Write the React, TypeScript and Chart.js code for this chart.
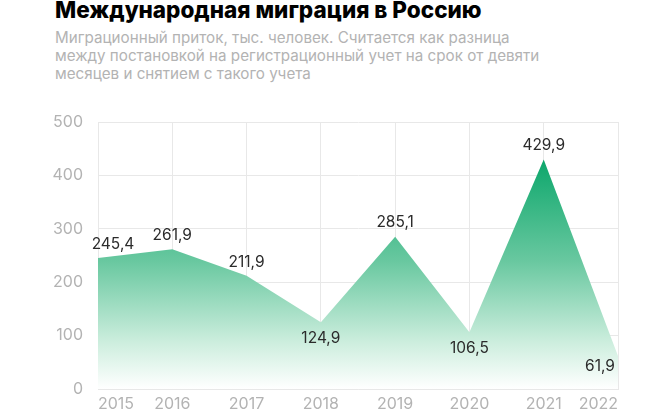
import React, { useEffect, useRef } from "react";
import { Chart, registerables } from "chart.js";

Chart.register(...registerables);

const years = ["2015", "2016", "2017", "2018", "2019", "2020", "2021", "2022"];
const inflow = [245.4, 261.9, 211.9, 124.9, 285.1, 106.5, 429.9, 61.9];
const labelPlacement = ["aboveRight", "above", "above", "below", "above", "below", "above", "belowLeft"];
const yMax = 500;
const yStep = 100;

const title = "Международная миграция в Россию";
const subtitleLines = [
  "Миграционный приток, тыс. человек. Считается как разница",
  "между постановкой на регистрационный учет на срок от девяти",
  "месяцев и снятием с такого учета",
];

const fmt = (v: number) => v.toFixed(1).replace(".", ",");

const valueLabels = {
  id: "valueLabels",
  afterDatasetsDraw(chart: any) {
    const ctx = chart.ctx;
    const meta = chart.getDatasetMeta(0);
    ctx.save();
    ctx.font = "15.5px Inter, 'Noto Sans', sans-serif";
    ctx.fillStyle = "#2b2b2b";
    ctx.textAlign = "center";
    ctx.textBaseline = "middle";
    meta.data.forEach((pt: any, i: number) => {
      const p = labelPlacement[i];
      let dx = 0;
      let dy = -14;
      if (p === "aboveRight") { dx = 15; dy = -14; }
      if (p === "below") { dx = 0; dy = 16; }
      if (p === "belowLeft") { dx = -18; dy = 10; }
      ctx.fillText(fmt(inflow[i]), pt.x + dx, pt.y + dy);
    });
    ctx.restore();
  },
};

export default function App() {
  const ref = useRef<HTMLCanvasElement>(null);
  useEffect(() => {
    const canvas = ref.current!;
    const chart = new Chart(canvas, {
      type: "line",
      data: {
        labels: years,
        datasets: [
          {
            data: inflow,
            fill: "origin",
            borderWidth: 0,
            pointRadius: 0,
            tension: 0,
            backgroundColor: (c: any) => {
              const area = c.chart.chartArea;
              if (!area) return "rgba(40,180,120,0.6)";
              const g = c.chart.ctx.createLinearGradient(0, area.top + 35, 0, area.bottom);
              g.addColorStop(0, "rgb(10,166,106)");
              g.addColorStop(0.45, "rgb(105,200,160)");
              g.addColorStop(0.8, "rgb(205,238,222)");
              g.addColorStop(1, "rgb(255,255,255)");
              return g;
            },
          },
        ],
      },
      options: {
        animation: false,
        responsive: false,
        maintainAspectRatio: false,
        layout: { padding: { top: 122, right: 52, left: 0, bottom: 0 } },
        plugins: { legend: { display: false }, tooltip: { enabled: false } },
        scales: {
          x: {
            offset: false,
            grid: { color: "#e8e8e8", drawTicks: false },
            border: { color: "#e8e8e8" },
            ticks: {
              color: "#b3b3b3",
              font: { family: "Inter, 'Noto Sans', sans-serif", size: 16 },
              padding: 6,
              align: "inner",
              maxRotation: 0,
              autoSkip: false,
            },
            afterFit: (s: any) => { s.height = 31; },
          },
          y: {
            min: 0,
            max: yMax,
            ticks: {
              stepSize: yStep,
              color: "#b3b3b3",
              font: { family: "Inter, 'Noto Sans', sans-serif", size: 16 },
              padding: 15,
            },
            grid: { color: "#e8e8e8", drawTicks: false },
            border: { color: "#e8e8e8" },
            afterFit: (s: any) => { s.width = 98; },
          },
        },
      },
      plugins: [valueLabels],
    });
    return () => chart.destroy();
  }, []);

  return (
    <div style={{ position: "absolute", left: 0, top: 0, width: 670, height: 420, background: "#fff", overflow: "hidden" }}>
      <div
        style={{
          position: "absolute",
          left: 55,
          top: -4,
          fontFamily: "Inter, 'Noto Sans', sans-serif",
          fontWeight: 800,
          fontSize: 22.5,
          color: "#000",
          whiteSpace: "nowrap",
          lineHeight: "28px",
        }}
      >
        {title}
      </div>
      <div
        style={{
          position: "absolute",
          left: 55,
          top: 29,
          fontFamily: "Inter, 'Noto Sans', sans-serif",
          fontSize: 15.2,
          color: "#b3b3b3",
          lineHeight: "18px",
          whiteSpace: "nowrap",
        }}
      >
        {subtitleLines.map((l, i) => (
          <div key={i}>{l}</div>
        ))}
      </div>
      <canvas ref={ref} width={670} height={420} style={{ position: "absolute", left: 0, top: 0 }} />
    </div>
  );
}
